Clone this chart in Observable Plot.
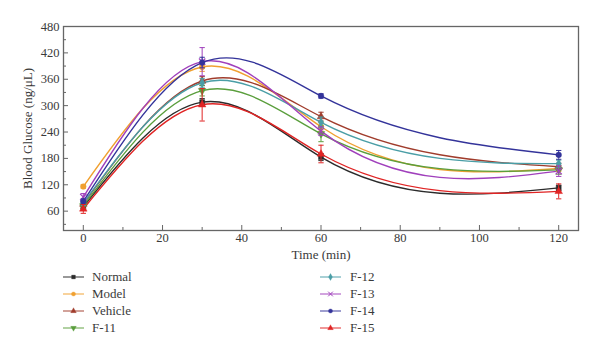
<!DOCTYPE html>
<html>
<head>
<meta charset="utf-8">
<script src="https://cdn.jsdelivr.net/npm/d3@7"></script>
<script src="https://cdn.jsdelivr.net/npm/@observablehq/plot@0.6"></script>
<style>
  body { margin: 0; background: #fff; font-family: "Liberation Serif", "Times New Roman", serif; }
  #chart { width: 600px; height: 266px; }
  #legend { position: relative; width: 600px; height: 87px; font-family: "Liberation Serif", "Times New Roman", serif; font-size: 13px; color: #3a3a3a; }
  .item { position: absolute; height: 17px; display: flex; align-items: center; }
  .item svg { display: block; }
</style>
</head>
<body>
<div id="chart"></div>
<div id="legend"></div>
<script>
const times = [0, 30, 60, 120];
const series = ["Normal", "Model", "Vehicle", "F-11", "F-12", "F-13", "F-14", "F-15"];
const colors = ["#2b2b2b", "#f0a030", "#a03c2c", "#5a9e3c", "#4a9ea6", "#a040bc", "#33339a", "#e02424"];
const symbols = ["square", "circle", "triangle", "triangle", "diamond", "times", "circle", "triangle"];
const rotations = [0, 0, 0, 180, 0, 0, 0, 0];

const normal  = [70, 308, 183, 113];
const model   = [116, 388, 252, 157];
const vehicle = [76, 356, 275, 161];
const f11     = [72, 334, 236, 154];
const f12     = [78, 352, 262, 168];
const f13     = [92, 400, 242, 151];
const f14     = [82, 398, 322, 188];
const f15     = [65, 302, 190, 105];

const normalSd  = [5, 8, 8, 6];
const modelSd   = [4, 10, 10, 7];
const vehicleSd = [5, 10, 10, 8];
const f11Sd     = [6, 12, 18, 10];
const f12Sd     = [5, 10, 12, 8];
const f13Sd     = [8, 32, 10, 12];
const f14Sd     = [6, 12, 5, 10];
const f15Sd     = [10, 37, 20, 17];

const xTicks = [0, 20, 40, 60, 80, 100, 120];
const xMinor = [10, 30, 50, 70, 90, 110];
const yTicks = [60, 120, 180, 240, 300, 360, 420, 480];
const yMinor = [30, 90, 150, 210, 270, 330, 390, 450];

const values = [normal, model, vehicle, f11, f12, f13, f14, f15];
const sds = [normalSd, modelSd, vehicleSd, f11Sd, f12Sd, f13Sd, f14Sd, f15Sd];

const data = [];
series.forEach((s, i) => {
  times.forEach((t, j) => {
    data.push({series: s, time: t, value: values[i][j], sd: sds[i][j], idx: i});
  });
});

// Curve: natural cubic spline of y as a function of x (like Origin's spline connection)
function splineX(context) {
  let pts = [];
  return {
    areaStart() {}, areaEnd() {},
    lineStart() { pts = []; },
    point(x, y) { pts.push([+x, +y]); },
    lineEnd() {
      const n = pts.length - 1;
      if (n < 0) return;
      context.moveTo(pts[0][0], pts[0][1]);
      if (n === 0) return;
      const h = [], d = [];
      for (let i = 0; i < n; i++) { h[i] = pts[i + 1][0] - pts[i][0]; d[i] = (pts[i + 1][1] - pts[i][1]) / h[i]; }
      const M = new Array(n + 1).fill(0);
      if (n > 1) {
        const a = [], b = [], c = [], r = [];
        for (let i = 1; i < n; i++) {
          a.push(h[i - 1]); b.push(2 * (h[i - 1] + h[i])); c.push(h[i]); r.push(6 * (d[i] - d[i - 1]));
        }
        const m = b.length;
        for (let i = 1; i < m; i++) { const w = a[i] / b[i - 1]; b[i] -= w * c[i - 1]; r[i] -= w * r[i - 1]; }
        const sol = new Array(m);
        sol[m - 1] = r[m - 1] / b[m - 1];
        for (let i = m - 2; i >= 0; i--) sol[i] = (r[i] - c[i] * sol[i + 1]) / b[i];
        for (let i = 0; i < m; i++) M[i + 1] = sol[i];
      }
      const slope = [];
      for (let i = 0; i < n; i++) slope[i] = d[i] - h[i] * (2 * M[i] + M[i + 1]) / 6;
      slope[n] = d[n - 1] + h[n - 1] * (M[n - 1] + 2 * M[n]) / 6;
      for (let i = 0; i < n; i++) {
        const [x0, y0] = pts[i], [x1, y1] = pts[i + 1], hh = h[i] / 3;
        context.bezierCurveTo(x0 + hh, y0 + slope[i] * hh, x1 - hh, y1 - slope[i + 1] * hh, x1, y1);
      }
    }
  };
}

const cap = {draw(ctx, size) { const w = Math.sqrt(size) / 2; ctx.moveTo(-w, 0); ctx.lineTo(w, 0); }};

const marks = [
  Plot.frame({stroke: "#666", strokeWidth: 1.3}),
  Plot.axisX({ticks: xTicks, tickSize: -5, tickPadding: 8, label: null, stroke: "#666", color: "#3a3a3a"}),
  Plot.axisX({ticks: xMinor, tickSize: -3, tickFormat: () => "", label: null, stroke: "#666"}),
  Plot.axisY({ticks: yTicks, tickSize: -5, tickPadding: 9, label: null, stroke: "#666", color: "#3a3a3a"}),
  Plot.axisY({ticks: yMinor, tickSize: -3, tickFormat: () => "", label: null, stroke: "#666"}),
  Plot.text(["Time (min)"], {frameAnchor: "bottom", dy: 28, fontSize: 13, fill: "#3a3a3a"}),
  Plot.text(["Blood Glucose (ng/μL)"], {frameAnchor: "left", textAnchor: "middle", dx: -36, rotate: -90, fontSize: 13, fill: "#3a3a3a"})
];

series.forEach((s, i) => {
  const d = data.filter(r => r.idx === i);
  marks.push(Plot.line(d, {x: "time", y: "value", stroke: colors[i], strokeWidth: 1.4, curve: splineX}));
});
series.forEach((s, i) => {
  const d = data.filter(r => r.idx === i);
  marks.push(Plot.ruleX(d, {x: "time", y1: r => r.value - r.sd, y2: r => r.value + r.sd, stroke: colors[i], strokeWidth: 1}));
  marks.push(Plot.dot(d, {x: "time", y: r => r.value - r.sd, symbol: cap, r: 3, stroke: colors[i], strokeWidth: 1}));
  marks.push(Plot.dot(d, {x: "time", y: r => r.value + r.sd, symbol: cap, r: 3, stroke: colors[i], strokeWidth: 1}));
  const sym = symbols[i];
  marks.push(Plot.dot(d, {x: "time", y: "value", symbol: sym, r: sym === "times" ? 3 : 2.8, rotate: rotations[i],
    fill: sym === "times" ? "none" : colors[i], stroke: colors[i], strokeWidth: sym === "times" ? 1.2 : 0.5}));
});

const chart = Plot.plot({
  width: 600, height: 266,
  marginLeft: 63, marginRight: 22, marginTop: 26, marginBottom: 36,
  style: {fontFamily: "'Liberation Serif', 'Times New Roman', serif", fontSize: "12.5px", background: "#fff", color: "#3a3a3a"},
  x: {domain: [-5, 125]},
  y: {domain: [16, 480]},
  marks
});
document.getElementById("chart").appendChild(chart);

// Legend
const legend = d3.select("#legend");
const cols = [{lineX: 63, textX: 92}, {lineX: 320, textX: 350}];
const symMap = {square: d3.symbolSquare, circle: d3.symbolCircle, triangle: d3.symbolTriangle, diamond: d3.symbolDiamond, times: d3.symbolTimes};
series.forEach((s, i) => {
  const col = cols[Math.floor(i / 4)];
  const row = i % 4;
  const item = legend.append("div").attr("class", "item")
    .style("left", col.lineX + "px").style("top", (2.5 + row * 17) + "px");
  const svg = item.append("svg").attr("width", 21).attr("height", 10);
  svg.append("line").attr("x1", 0).attr("x2", 21).attr("y1", 5).attr("y2", 5)
    .attr("stroke", colors[i]).attr("stroke-width", 1.2).attr("stroke-opacity", 0.8);
  svg.append("path").attr("d", d3.symbol(symMap[symbols[i]], symbols[i] === "times" ? 16 : 14)())
    .attr("transform", `translate(10.5,5) rotate(${rotations[i]})`)
    .attr("fill", symbols[i] === "times" ? "none" : colors[i]).attr("stroke", colors[i]).attr("stroke-width", symbols[i] === "times" ? 1 : 0.3);
  item.append("span").style("margin-left", (col.textX - col.lineX - 21) + "px").text(s);
});
</script>
</body>
</html>
